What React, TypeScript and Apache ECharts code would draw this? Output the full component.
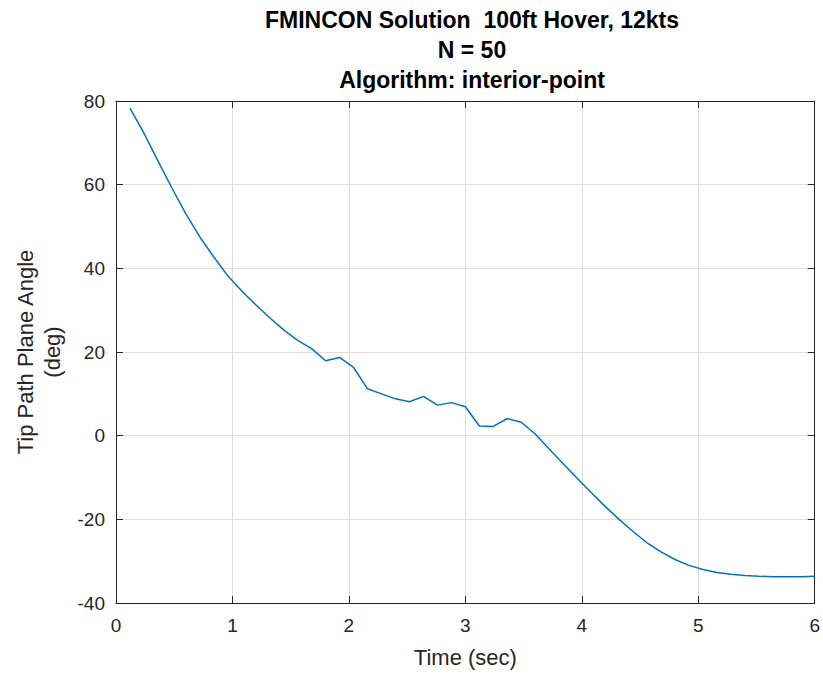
import React, { useEffect, useRef } from "react";
import * as echarts from "echarts";

const titleLines = ["FMINCON Solution  100ft Hover, 12kts", "N = 50", "Algorithm: interior-point"];
const xAxisName = "Time (sec)";
const yAxisName = "Tip Path Plane Angle\n(deg)";

const timeSec = [
  0.12, 0.24, 0.36, 0.48, 0.6, 0.72, 0.84, 0.96, 1.08, 1.2,
  1.32, 1.44, 1.56, 1.68, 1.8, 1.92, 2.04, 2.16, 2.28, 2.4,
  2.52, 2.64, 2.76, 2.88, 3.0, 3.12, 3.24, 3.36, 3.48, 3.6,
  3.72, 3.84, 3.96, 4.08, 4.2, 4.32, 4.44, 4.56, 4.68, 4.8,
  4.92, 5.04, 5.16, 5.28, 5.4, 5.52, 5.64, 5.76, 5.88, 6.0,
];

const tppAngleDeg = [
  78.3, 72.3, 65.7, 59.2, 53.0, 47.5, 42.7, 38.2, 34.6, 31.3,
  28.2, 25.3, 22.8, 20.8, 17.9, 18.7, 16.3, 11.2, 10.0, 8.8,
  8.1, 9.4, 7.3, 7.9, 6.9, 2.3, 2.2, 4.1, 3.2, 0.4,
  -3.2, -6.7, -10.2, -13.6, -16.9, -20.0, -22.9, -25.6, -27.8, -29.6,
  -31.0, -32.0, -32.7, -33.1, -33.4, -33.6, -33.7, -33.7, -33.7, -33.6,
];

const xRange = { min: 0, max: 6, interval: 1 };
const yRange = { min: -40, max: 80, interval: 20 };

const FONT = "'Liberation Sans', Arial, Helvetica, sans-serif";
const AX = "#262626";
const GRID = "#dedede";

export default function App() {
  const ref = useRef<HTMLDivElement>(null);
  useEffect(() => {
    if (!ref.current) return;
    const chart = echarts.init(ref.current, null, { renderer: "svg" });
    const data = timeSec.map((t, i) => [t, tppAngleDeg[i]]);
    const axisCommon = {
      axisLine: { show: true, onZero: false, lineStyle: { color: AX, width: 1 } },
      axisTick: { show: true, inside: true, length: 7, lineStyle: { color: AX } },
    };
    chart.setOption({
      animation: false,
      backgroundColor: "#ffffff",
      textStyle: { fontFamily: FONT },
      title: {
        text: titleLines.join("\n"),
        left: 467,
        textAlign: "center",
        top: 0,
        textStyle: { fontFamily: FONT, fontWeight: "bold", fontSize: 23, lineHeight: 30, color: "#000" },
      },
      grid: { left: 116, right: 6, top: 101, bottom: 71, containLabel: false },
      xAxis: [
        {
          type: "value",
          position: "bottom",
          ...xRange,
          ...axisCommon,
          name: xAxisName,
          nameLocation: "middle",
          nameGap: 43,
          nameTextStyle: { fontFamily: FONT, fontSize: 22, color: AX },
          axisLabel: { fontFamily: FONT, fontSize: 19, color: AX, margin: 13 },
          splitLine: { show: true, lineStyle: { color: GRID, width: 1 } },
        },
        {
          type: "value",
          position: "top",
          ...xRange,
          ...axisCommon,
          axisLabel: { show: false },
          splitLine: { show: false },
        },
      ],
      yAxis: [
        {
          type: "value",
          position: "left",
          ...yRange,
          ...axisCommon,
          name: yAxisName,
          nameLocation: "middle",
          nameGap: 50,
          nameRotate: 90,
          nameTextStyle: { fontFamily: FONT, fontSize: 22, lineHeight: 27, color: AX, align: "center" },
          axisLabel: { fontFamily: FONT, fontSize: 19, color: AX, margin: 11 },
          splitLine: { show: true, lineStyle: { color: GRID, width: 1 } },
        },
        {
          type: "value",
          position: "right",
          ...yRange,
          ...axisCommon,
          axisLabel: { show: false },
          splitLine: { show: false },
        },
      ],
      series: [
        {
          type: "line",
          xAxisIndex: 0,
          yAxisIndex: 0,
          data,
          showSymbol: false,
          symbol: "none",
          lineStyle: { color: "#0072BD", width: 1.5 },
        },
      ],
    });
    return () => chart.dispose();
  }, []);
  return (
    <div
      ref={ref}
      style={{ position: "absolute", left: 0, top: 0, width: 823, height: 674, background: "#fff" }}
    />
  );
}
